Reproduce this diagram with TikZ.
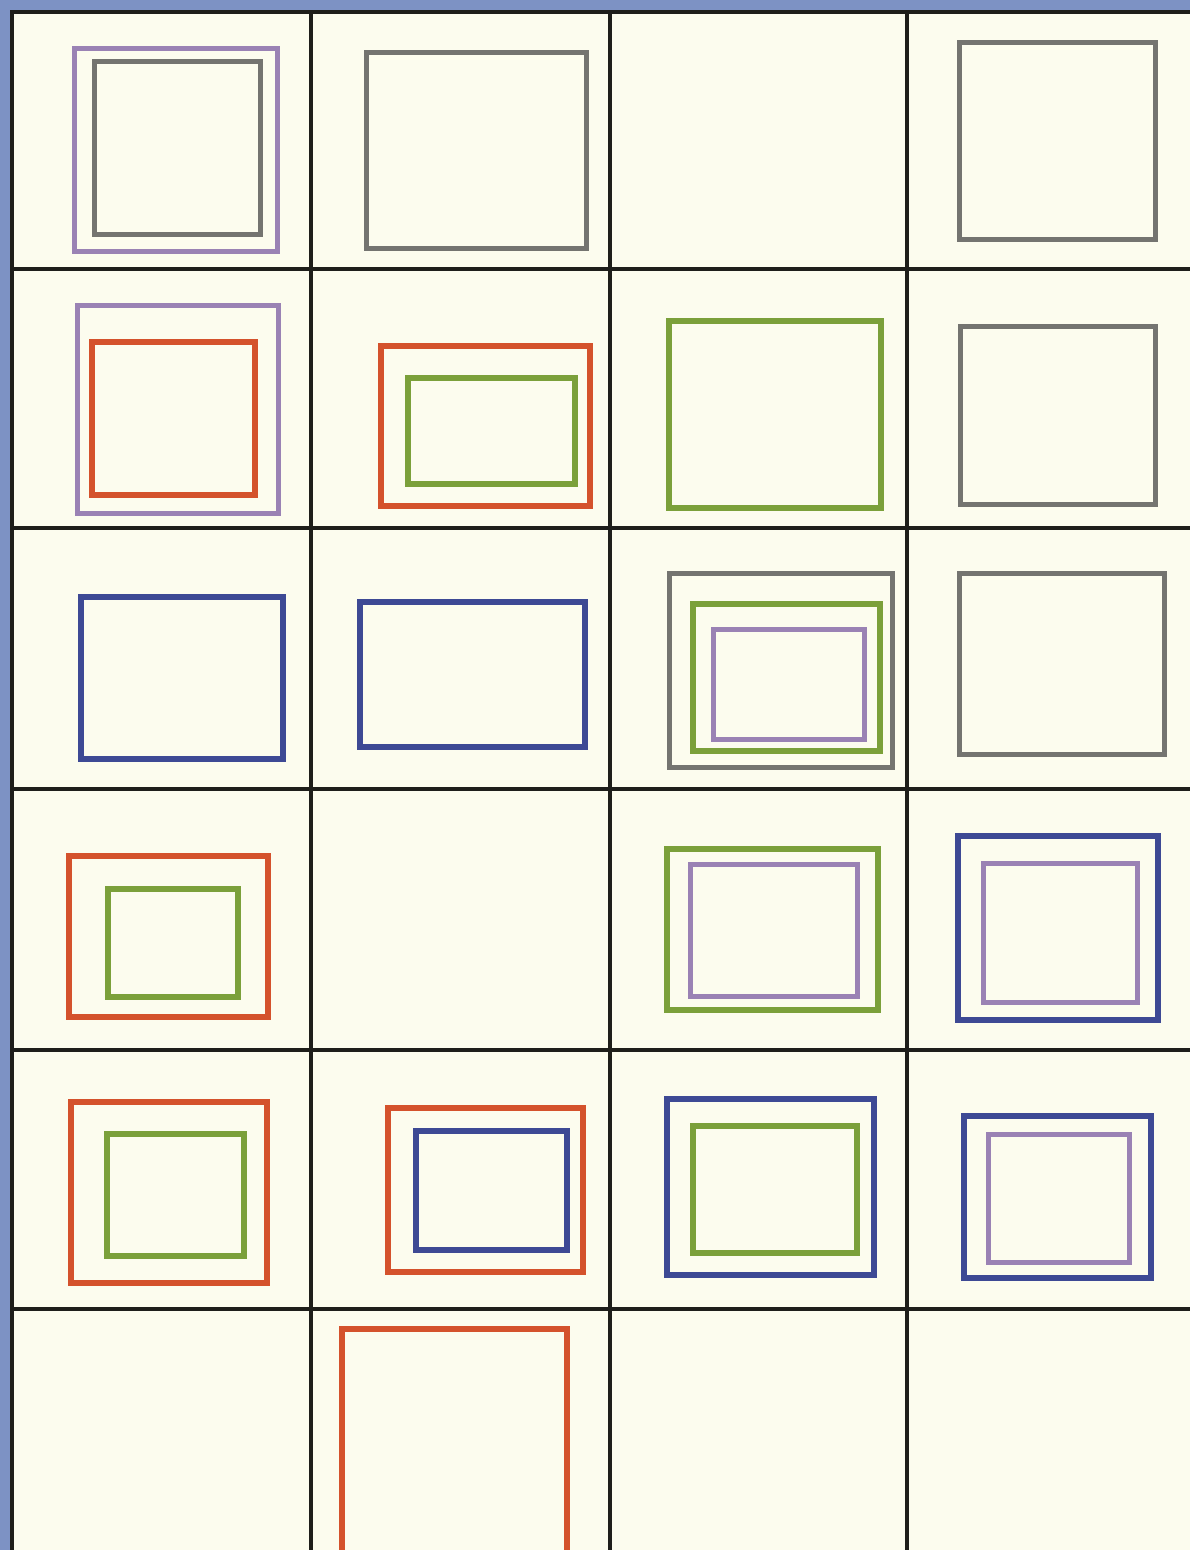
\documentclass[tikz,border=0pt]{standalone}
\definecolor{paper}{HTML}{FCFCEE}
\definecolor{edgeblue}{HTML}{7D92C4}
\definecolor{gridc}{HTML}{1E1E1A}
\definecolor{cgray}{HTML}{747470}
\definecolor{cpurple}{HTML}{9A82B4}
\definecolor{cgreen}{HTML}{7BA03A}
\definecolor{cred}{HTML}{D4522C}
\definecolor{cblue}{HTML}{3D4994}
\tikzset{
  gridline/.style={draw=gridc, line width=4pt},
  graybox/.style={draw=cgray, line width=5pt},
  purplebox/.style={draw=cpurple, line width=5pt},
  greenbox/.style={draw=cgreen, line width=5.5pt},
  redbox/.style={draw=cred, line width=6pt},
  bluebox/.style={draw=cblue, line width=6pt}
}
\begin{document}
\begin{tikzpicture}[x=1pt,y=-1pt]
\path[use as bounding box] (0,0) rectangle (1190,1550);
\fill[edgeblue] (0,0) rectangle (1190,1550);
\fill[paper] (12,12) rectangle (1190,1550);
% grid
\foreach \gx in {12,311,610,907} {\draw[gridline] (\gx,10) -- (\gx,1552);}
\foreach \gy in {12,269,528,789,1050,1309} {\draw[gridline] (10,\gy) -- (1192,\gy);}
% row 1
\draw[purplebox] (74,48) rectangle (277,251);
\draw[graybox] (94,61) rectangle (260,234);
\draw[graybox] (366,52) rectangle (586,248);
\draw[graybox] (959,42) rectangle (1155,239);
% row 2
\draw[purplebox] (77,305) rectangle (278,513);
\draw[redbox] (92,342) rectangle (255,495);
\draw[redbox] (381,346) rectangle (590,506);
\draw[greenbox] (408,378) rectangle (575,484);
\draw[greenbox] (669,321) rectangle (881,508);
\draw[graybox] (960,326) rectangle (1155,504);
% row 3
\draw[bluebox] (81,597) rectangle (283,759);
\draw[bluebox] (360,602) rectangle (585,747);
\draw[graybox] (669,573) rectangle (892,767);
\draw[greenbox] (693,604) rectangle (880,751);
\draw[purplebox] (713,629) rectangle (864,739);
\draw[graybox] (959,573) rectangle (1164,754);
% row 4
\draw[redbox] (69,856) rectangle (268,1017);
\draw[greenbox] (108,889) rectangle (238,997);
\draw[greenbox] (667,849) rectangle (878,1010);
\draw[purplebox] (690,864) rectangle (857,996);
\draw[bluebox] (958,836) rectangle (1158,1020);
\draw[purplebox] (983,863) rectangle (1137,1002);
% row 5
\draw[redbox] (71,1102) rectangle (267,1283);
\draw[greenbox] (107,1134) rectangle (244,1256);
\draw[redbox] (388,1108) rectangle (583,1272);
\draw[bluebox] (416,1131) rectangle (567,1250);
\draw[bluebox] (667,1099) rectangle (874,1275);
\draw[greenbox] (693,1126) rectangle (857,1253);
\draw[bluebox] (964,1116) rectangle (1151,1278);
\draw[purplebox] (988,1134) rectangle (1129,1262);
% row 6
\draw[redbox] (342,1329) rectangle (567,1570);
\end{tikzpicture}
\end{document}
